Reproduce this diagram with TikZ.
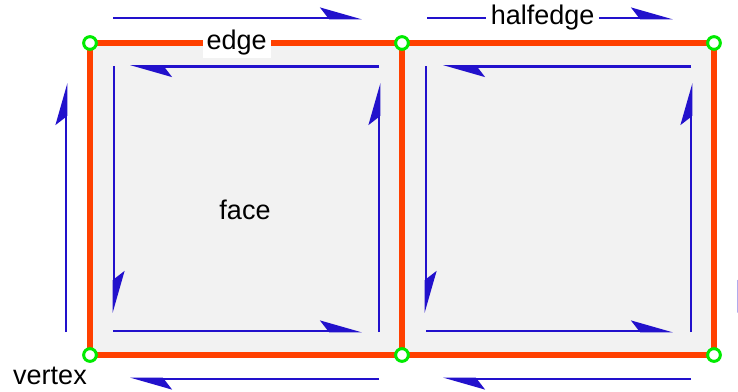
\documentclass[tikz,border=0pt]{standalone}
\usepackage{fontspec}
\setmainfont{Liberation Sans}
\usetikzlibrary{arrows.meta}

\definecolor{edgered}{RGB}{255,64,0}
\definecolor{hblue}{RGB}{34,17,204}
\definecolor{facegray}{RGB}{242,242,242}
\definecolor{vgreen}{RGB}{0,235,0}

\begin{document}
\begin{tikzpicture}[x=1pt,y=-1pt,
  vtx/.style={circle,draw=vgreen,fill=white,line width=3pt,minimum size=12.7pt,inner sep=0pt},
  edgeline/.style={draw=edgered,line width=5.6pt},
  half/.style={draw=hblue,line width=2.8pt,-{Stealth[left,length=37pt,width=21pt,inset=8pt]}},
  lbl/.style={fill=white,inner sep=4pt,font=\fontsize{27}{30}\selectfont}]
\clip (0,0) rectangle (738,391);
% faces
\fill[facegray] (90,43) rectangle (714,355);
\node[font=\fontsize{27}{30}\selectfont] (face) at (245,210) {face};
% vertices (drawn later on top)
\coordinate (v1) at (90,43);
\coordinate (v2) at (402,43);
\coordinate (v3) at (714,43);
\coordinate (v4) at (90,355);
\coordinate (v5) at (402,355);
\coordinate (v6) at (714,355);
% edges
\draw[edgeline] (v1) -- node[lbl,pos=0.47,inner ysep=2pt] (edgelbl) {edge} (v2) -- (v3) -- (v6) -- (v5) -- (v4) -- cycle;
\draw[edgeline] (v2) -- (v5);
% halfedges, first face
\draw[half] ([shift={(23,-25)}]v1) -- ([shift={(-40,-25)}]v2);
\draw[half] ([shift={(-24,-23)}]v4) -- ([shift={(-24,40)}]v1);
\draw[half] ([shift={(-23,24)}]v5) -- ([shift={(40,24)}]v4);
\draw[half] ([shift={(-23,23.5)}]v2) -- ([shift={(40,23.5)}]v1);
\draw[half] ([shift={(24,23)}]v1) -- ([shift={(24,-42)}]v4);
\draw[half] ([shift={(23,-24)}]v4) -- ([shift={(-40,-24)}]v5);
\draw[half] ([shift={(-23,-23)}]v5) -- ([shift={(-23,40)}]v2);
% halfedges, second face
\draw[half] ([shift={(25,-25)}]v2) -- node[lbl,pos=0.47,inner sep=5pt] (hlbl) {halfedge} ([shift={(-41,-25)}]v3);
\draw[half] ([shift={(-23,24)}]v6) -- ([shift={(41,24)}]v5);
\draw[half] ([shift={(-23,23.5)}]v3) -- ([shift={(41,23.5)}]v2);
\draw[half] ([shift={(24,23)}]v2) -- ([shift={(24,-42)}]v5);
\draw[half] ([shift={(24,-24)}]v5) -- ([shift={(-41,-24)}]v6);
\draw[half] ([shift={(-23,-23)}]v6) -- ([shift={(-23,40)}]v3);
\draw[half] ([shift={(25,23)}]v3) -- ([shift={(25,-42)}]v6);
% vertex circles
\foreach \v in {v1,v2,v3,v4,v5,v6}
  \node[vtx] (c\v) at (\v) {};
\node[font=\fontsize{27}{30}\selectfont] (vtxlbl) at (50,376) {vertex};
\end{tikzpicture}
\end{document}
